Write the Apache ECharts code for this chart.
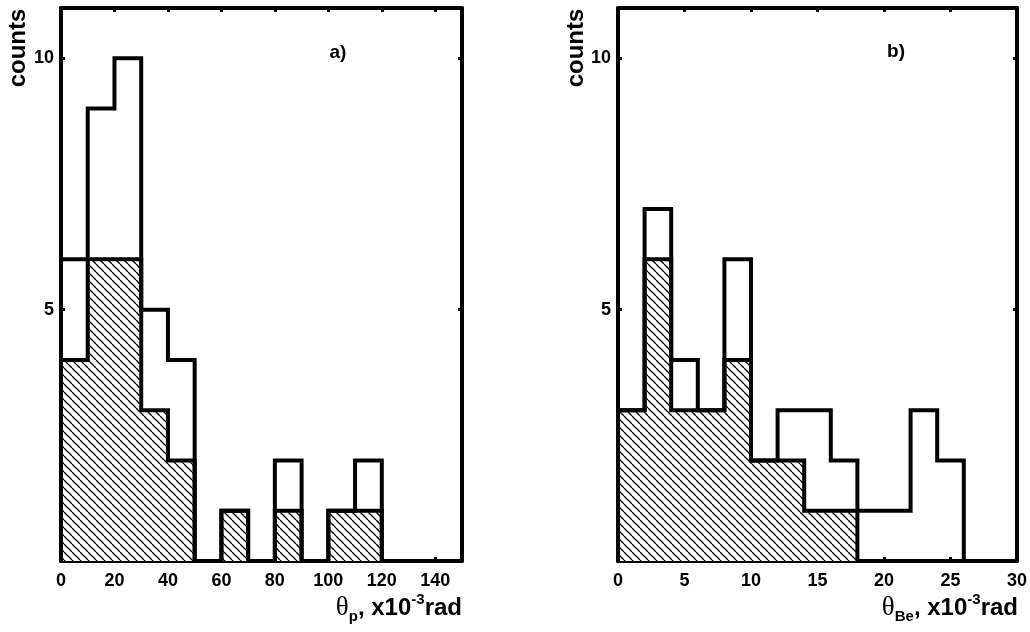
<!DOCTYPE html>
<html>
<head>
<meta charset="utf-8">
<script src="https://cdn.jsdelivr.net/npm/echarts@6/dist/echarts.min.js"></script>
<style>
html,body{margin:0;padding:0;background:#fff;}
#chart{width:1030px;height:632px;}
</style>
</head>
<body>
<div id="chart"></div>
<script>
// ---- data ----
const aBinEdges = [0,10,20,30,40,50,60,70,80,90,100,110,120];
const aTotal    = [6,9,10,5,4,0,1,0,2,0,1,2];
const aHatched  = [4,6,6,3,2,0,1,0,1,0,1,1];

const bBinEdges = [0,2,4,6,8,10,12,14,16,18,20,22,24,26];
const bTotal    = [3,7,4,3,6,2,3,3,2,1,1,3,2];
const bHatched  = [3,6,3,3,4,2,2,1,1,0,0,0,0];

const yTicks = [5,10];
const panelLabels = ['a)','b)'];

// ---- helpers ----
function stepData(edges, counts){
  const d = [[edges[0],0]];
  counts.forEach((c,i)=>d.push([edges[i],c]));
  d.push([edges[edges.length-1],0]);
  return d;
}
function hatchPattern(){
  const s = 8;
  const c = document.createElement('canvas');
  c.width = s; c.height = s;
  const g = c.getContext('2d');
  g.fillStyle = '#fff'; g.fillRect(0,0,s,s);
  g.strokeStyle = '#000'; g.lineWidth = 1.3;
  for (let k=-1;k<=1;k++){
    g.beginPath(); g.moveTo(k*s,0); g.lineTo(k*s+s,s); g.stroke();
  }
  return {image:c, repeat:'repeat'};
}
const hatch = hatchPattern();
const FONT = 'Liberation Sans';
const lab = {fontFamily:FONT, fontWeight:'bold', fontSize:18, color:'#000'};

function xAxes(gridIndex, max, interval){
  const common = {type:'value', gridIndex, min:0, max, interval,
    splitLine:{show:false},
    axisLine:{show:true, onZero:false, lineStyle:{color:'#000', width:4}},
    axisTick:{show:true, inside:true, length:4, lineStyle:{color:'#000', width:3}}};
  return [
    Object.assign({}, common, {position:'bottom',
      axisLabel:Object.assign({margin:11, formatter:v=> v>=max && max===150 ? '' : String(v)}, lab)}),
    Object.assign({}, common, {position:'top', axisLabel:{show:false}})
  ];
}
function yAxes(gridIndex){
  const common = {type:'value', gridIndex, min:0, max:11, interval:5,
    splitLine:{show:false},
    axisLine:{show:true, onZero:false, lineStyle:{color:'#000', width:4}},
    axisTick:{show:true, inside:true, length:4, lineStyle:{color:'#000', width:3}}};
  return [
    Object.assign({}, common, {position:'left',
      axisLabel:Object.assign({margin:7, formatter:v=> yTicks.indexOf(v)>=0 ? String(v) : ''}, lab)}),
    Object.assign({}, common, {position:'right', axisLabel:{show:false}})
  ];
}
function histSeries(xi, yi, edges, total, hatched){
  return [
    {type:'line', xAxisIndex:xi, yAxisIndex:yi, step:'end', showSymbol:false, symbol:'none',
     data:stepData(edges, hatched), lineStyle:{color:'#000', width:4, join:'miter'},
     areaStyle:{color:hatch, opacity:1}, z:2},
    {type:'line', xAxisIndex:xi, yAxisIndex:yi, step:'end', showSymbol:false, symbol:'none',
     data:stepData(edges, total), lineStyle:{color:'#000', width:4, join:'miter'}, z:3}
  ];
}
function axisName(x, sub){
  return {type:'text', style:{
    x:x, y:624, align:'right', verticalAlign:'bottom',
    text:'{t|θ}{s|'+sub+'}{n|, x10}{p|-3}{n|rad}',
    rich:{
      t:{fontFamily:'Liberation Serif', fontSize:27, fill:'#000', lineHeight:32},
      n:{fontFamily:FONT, fontWeight:'bold', fontSize:24, fill:'#000', lineHeight:32},
      s:{fontFamily:FONT, fontWeight:'bold', fontSize:15, fill:'#000', lineHeight:13, verticalAlign:'bottom'},
      p:{fontFamily:FONT, fontWeight:'bold', fontSize:15, fill:'#000', lineHeight:20, verticalAlign:'top'}
    }}};
}

const chart = echarts.init(document.getElementById('chart'), null, {renderer:'canvas'});
chart.setOption({
  animation:false,
  backgroundColor:'#fff',
  grid:[
    {left:61, right:568, top:8, bottom:71},
    {left:618, right:10, top:8, bottom:71}
  ],
  xAxis:[].concat(xAxes(0,150,20), xAxes(1,30,5)),
  yAxis:[].concat(yAxes(0), yAxes(1)),
  series:[].concat(
    histSeries(0,0,aBinEdges,aTotal,aHatched),
    histSeries(2,2,bBinEdges,bTotal,bHatched)
  ),
  graphic:[
    {type:'text', x:18, y:48, rotation:Math.PI/2, style:{text:'counts', align:'center', verticalAlign:'middle',
      font:'bold 24px "Liberation Sans"', fill:'#000'}},
    {type:'text', x:576, y:48, rotation:Math.PI/2, style:{text:'counts', align:'center', verticalAlign:'middle',
      font:'bold 24px "Liberation Sans"', fill:'#000'}},
    {type:'text', x:338, y:53, style:{text:panelLabels[0], align:'center', verticalAlign:'middle',
      font:'bold 19px "Liberation Sans"', fill:'#000'}},
    {type:'text', x:896, y:52, style:{text:panelLabels[1], align:'center', verticalAlign:'middle',
      font:'bold 19px "Liberation Sans"', fill:'#000'}},
    axisName(462, 'p'),
    axisName(1018, 'Be')
  ]
});
</script>
</body>
</html>
